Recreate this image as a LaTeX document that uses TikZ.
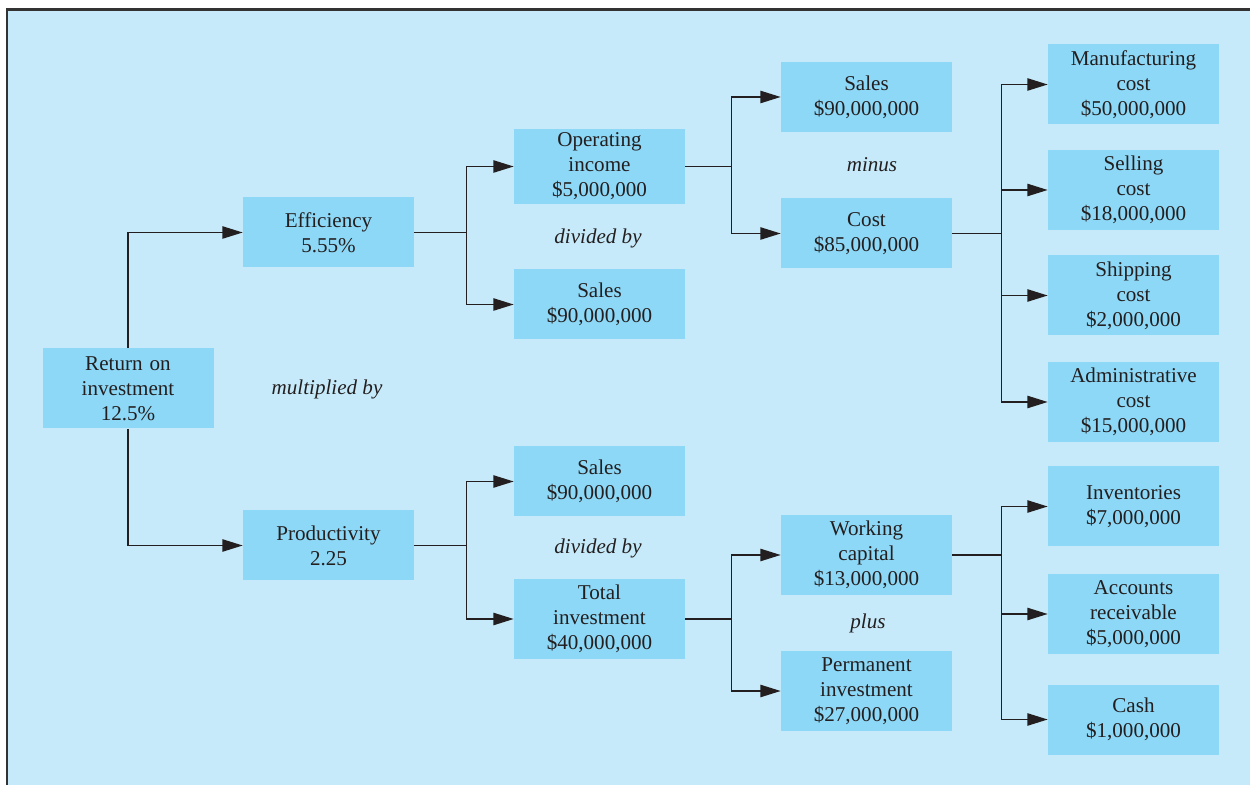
\documentclass[tikz,border=0pt]{standalone}
\usepackage{fontspec}
\setmainfont{Liberation Serif}
\usetikzlibrary{arrows.meta}
\definecolor{panel}{RGB}{198,234,249}
\definecolor{boxblue}{RGB}{141,216,246}
\definecolor{ink}{RGB}{35,31,32}

\begin{document}
\begin{tikzpicture}[
    font=\fontsize{12}{14.2}\selectfont, text=ink,
    item/.style={fill=boxblue, text width=3.1cm, align=center,
      minimum width=3.42cm, minimum height=1.4cm, inner sep=0pt},
    tall/.style={item, minimum height=1.6cm},
    op/.style={font=\fontsize{12}{14.2}\selectfont\itshape},
    link/.style={draw=ink, line width=0.75pt},
    arr/.style={link, -{Triangle[length=11.5pt,width=7pt]}}
  ]
   \useasboundingbox (0,0) rectangle (25,15.7);
   \fill[panel] (0.14,0) rectangle (25,15.5);
   \draw[line width=1.7pt, draw=black!80] (0.14,0) -- (0.14,15.5) -- (25,15.5);

   \node[tall] (roi) at (2.56,7.93) {Return on\\investment\\12.5\%};
   \node[item] (eff) at (6.57,11.05) {Efficiency\\5.55\%};
   \node[item] (prod) at (6.57,4.79) {Productivity\\2.25};

   \node[item, minimum height=1.5cm] (opinc) at (11.99,12.37) {Operating\\income\\\$5,000,000};
   \node[item] (salesa) at (11.99,9.61) {Sales\\\$90,000,000};
   \node[item] (salesb) at (11.99,6.07) {Sales\\\$90,000,000};
   \node[tall] (totinv) at (11.99,3.32) {Total\\investment\\\$40,000,000};

   \node[item] (salesc) at (17.33,13.76) {Sales\\\$90,000,000};
   \node[item] (cost) at (17.33,11.03) {Cost\\\$85,000,000};
   \node[tall] (wcap) at (17.33,4.60) {Working\\capital\\\$13,000,000};
   \node[tall] (perm) at (17.33,1.88) {Permanent\\investment\\\$27,000,000};

   \node[tall] (manuf) at (22.67,14.01) {Manufacturing\\cost\\\$50,000,000};
   \node[tall] (sell) at (22.67,11.90) {Selling\\cost\\\$18,000,000};
   \node[tall] (ship) at (22.67,9.79) {Shipping\\cost\\\$2,000,000};
   \node[tall] (admin) at (22.67,7.66) {Administrative\\cost\\\$15,000,000};
   \node[tall] (inv) at (22.67,5.57) {Inventories\\\$7,000,000};
   \node[tall] (acc) at (22.67,3.42) {Accounts\\receivable\\\$5,000,000};
   \node[item] (cash) at (22.67,1.31) {Cash\\\$1,000,000};

   \node[op] (mult) at (6.54,7.92) {multiplied by};
   \node[op] (diva) at (11.96,10.94) {divided by};
   \node[op] (divb) at (11.96,4.74) {divided by};
   \node[op] (minus) at (17.44,12.40) {minus};
   \node[op] (plus) at (17.36,3.24) {plus};

   % roi splits up and down
   \draw[arr] (roi.north) |- (eff.west);
   \draw[arr] (roi.south) |- (prod.west);

   % branch points
   \draw[link] (eff.east) -- ++(1.04,0) coordinate (ea);
   \draw[link] (prod.east) -- ++(1.04,0) coordinate (pa);
   \draw[link] (opinc.east) -- ++(0.92,0) coordinate (oa);
   \draw[link] (totinv.east) -- ++(0.92,0) coordinate (ta);
   \draw[link] (cost.east) -- ++(0.98,0) coordinate (ca);
   \draw[link] (wcap.east) -- ++(0.98,0) coordinate (wa);

   \foreach \n in {opinc,salesa} \draw[arr] (ea) |- (\n.west);
   \foreach \n in {salesb,totinv} \draw[arr] (pa) |- (\n.west);
   \foreach \n in {salesc,cost} \draw[arr] (oa) |- (\n.west);
   \foreach \n in {wcap,perm} \draw[arr] (ta) |- (\n.west);
   \foreach \n in {manuf,sell,ship,admin} \draw[arr] (ca) |- (\n.west);
   \foreach \n in {inv,acc,cash} \draw[arr] (wa) |- (\n.west);
\end{tikzpicture}
\end{document}
